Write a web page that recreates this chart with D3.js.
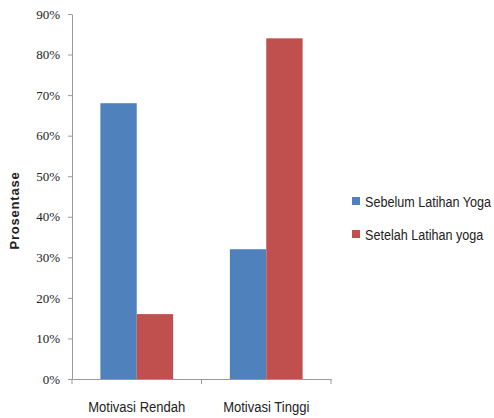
<!DOCTYPE html>
<html>
<head>
<meta charset="utf-8">
<script src="https://cdn.jsdelivr.net/npm/d3@7"></script>
<style>
  body { margin: 0; background: #fff; }
  svg { display: block; }
</style>
</head>
<body>
<div id="chart"></div>
<script>
const categories = ["Motivasi Rendah", "Motivasi Tinggi"];
const seriesNames = ["Sebelum Latihan Yoga", "Setelah Latihan yoga"];
const sebelum = [0.68, 0.32];
const setelah = [0.16, 0.84];
const yTicks = [0, 0.1, 0.2, 0.3, 0.4, 0.5, 0.6, 0.7, 0.8, 0.9];
const colors = ["#4f81bd", "#c0504d"];

const W = 494, H = 418;
const plot = { left: 72, right: 331, top: 14, bottom: 379 };
const narrow = 0.84; // la font original és condensada

const svg = d3.select("#chart").append("svg")
  .attr("width", W)
  .attr("height", H);

const x0 = d3.scaleBand()
  .domain(categories)
  .range([plot.left, plot.right])
  .padding(0);

const x1 = d3.scaleBand()
  .domain(seriesNames)
  .range([0, x0.bandwidth()])
  .paddingInner(0)
  .paddingOuter(0.78);

const y = d3.scaleLinear()
  .domain([0, 0.9])
  .range([plot.bottom, plot.top]);

// barres
const rows = categories.map((c, i) => ({ cat: c, vals: [sebelum[i], setelah[i]] }));

svg.append("g").selectAll("g")
  .data(rows)
  .join("g")
  .attr("transform", d => `translate(${x0(d.cat)},0)`)
  .selectAll("rect")
  .data(d => d.vals.map((v, j) => ({ name: seriesNames[j], value: v, j })))
  .join("rect")
  .attr("x", d => x1(d.name))
  .attr("y", d => y(d.value))
  .attr("width", x1.bandwidth())
  .attr("height", d => y(0) - y(d.value))
  .attr("fill", d => colors[d.j]);

// eix Y
const yAxis = svg.append("g")
  .attr("transform", `translate(${plot.left},0)`)
  .call(d3.axisLeft(y).tickValues(yTicks).tickFormat(d3.format(".0%")).tickSize(4).tickSizeOuter(0));
yAxis.select(".domain").attr("stroke", "#999");
yAxis.selectAll(".tick line").attr("stroke", "#999");
yAxis.selectAll(".tick text")
  .attr("x", -12)
  .attr("fill", "#222")
  .style("font-family", "'Liberation Serif', 'DejaVu Serif', serif")
  .style("font-size", "13px");

// eix X
const xAxis = svg.append("g")
  .attr("transform", `translate(0,${plot.bottom})`)
  .call(d3.axisBottom(x0).tickSize(0).tickSizeOuter(0));
xAxis.select(".domain").attr("stroke", "#999");
xAxis.selectAll(".tick text")
  .attr("dy", 0)
  .attr("y", 33)
  .attr("transform", `scale(0.87,1)`)
  .attr("fill", "#222")
  .style("font-family", "'Liberation Sans', Arial, sans-serif")
  .style("font-size", "15px");

// separadors de categories
xAxis.selectAll("line.sep")
  .data(categories.map(c => x0(c)).concat([x0.range()[1]]))
  .join("line")
  .attr("class", "sep")
  .attr("x1", d => d)
  .attr("x2", d => d)
  .attr("y1", 0)
  .attr("y2", 5)
  .attr("stroke", "#999");

// títol eix Y
svg.append("text")
  .attr("transform", `translate(19,${(plot.top + plot.bottom) / 2 + 14}) rotate(-90)`)
  .attr("text-anchor", "middle")
  .style("font-family", "'Liberation Sans', Arial, sans-serif")
  .style("font-size", "13px")
  .style("font-weight", "bold")
  .style("letter-spacing", "0.8px")
  .attr("fill", "#222")
  .text("Prosentase");

// llegenda
const legend = svg.append("g")
  .attr("transform", "translate(352,194)")
  .selectAll("g")
  .data(seriesNames)
  .join("g")
  .attr("transform", (d, i) => `translate(0,${i * 33})`);

legend.append("rect")
  .attr("width", 8)
  .attr("height", 8)
  .attr("y", 3)
  .attr("fill", (d, i) => colors[i]);

legend.append("text")
  .attr("transform", `translate(13,13) scale(${narrow},1)`)
  .attr("fill", "#222")
  .style("font-family", "'Liberation Sans', Arial, sans-serif")
  .style("font-size", "15px")
  .text(d => d);
</script>
</body>
</html>
